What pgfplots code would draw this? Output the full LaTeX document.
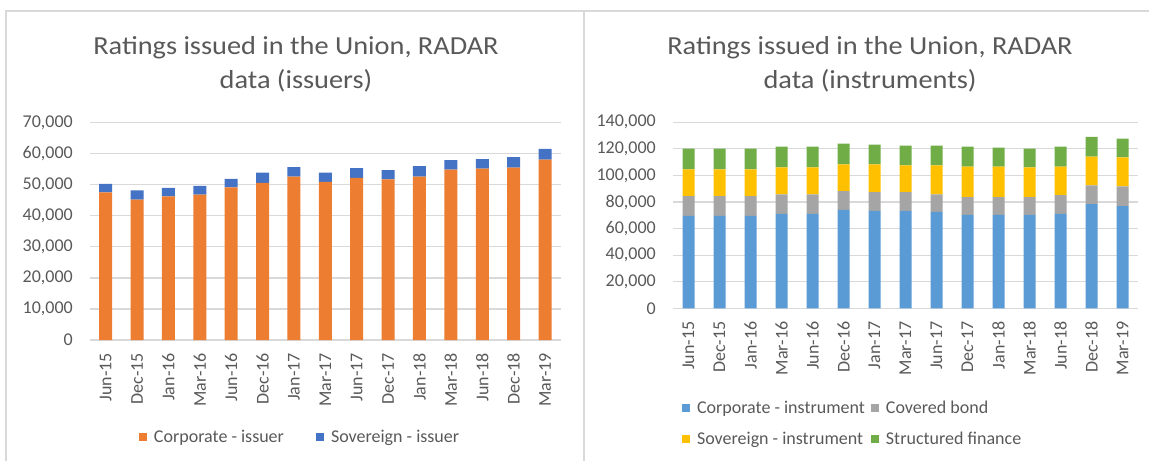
\documentclass[border=0pt]{standalone}
\usepackage{fontspec}
\setmainfont{Carlito}
\newfontfamily\titlefont[FakeStretch=1.09]{Carlito}
\usepackage{pgfplots}
\usepackage{pgfplotstable}
\pgfplotsset{compat=1.18}
\definecolor{txt}{HTML}{595959}
\definecolor{gridc}{HTML}{D9D9D9}
\definecolor{corpI}{HTML}{ED7D31}
\definecolor{sovI}{HTML}{4472C4}
\definecolor{corpN}{HTML}{5B9BD5}
\definecolor{covB}{HTML}{A5A5A5}
\definecolor{sovN}{HTML}{FFC000}
\definecolor{strF}{HTML}{70AD47}

\pgfplotstableread{
x corp sov
0 47520 2800
1 45260 2910
2 46230 2800
3 46870 2810
4 49140 2800
5 50650 3230
6 52590 3120
7 50970 2910
8 52260 3130
9 51720 3020
10 52590 3440
11 54850 3120
12 55170 3130
13 55500 3440
14 58080 3450
}\issuers

\pgfplotstableread{
x corp cov sov str
0 69620 14830 20110 15590
1 69620 14830 20110 15590
2 69620 14830 20110 15590
3 71130 14580 20360 15580
4 71130 14580 20360 15580
5 74150 14070 20110 15580
6 73390 14080 20860 14830
7 73390 14080 20110 14830
8 72640 13070 21870 14830
9 70380 13320 22870 15080
10 70380 13320 22870 14330
11 70380 13320 22370 14080
12 71130 14080 21360 15080
13 78420 14080 21620 14830
14 76910 14830 21870 14080
}\instr

\pgfplotsset{
  excel/.style={
    scale only axis,
    ybar stacked,
    xmin=-0.5, xmax=14.5,
    xtick={0,...,14},
    xticklabels={Jun-15,Dec-15,Jan-16,Mar-16,Jun-16,Dec-16,Jan-17,Mar-17,Jun-17,Dec-17,Jan-18,Mar-18,Jun-18,Dec-18,Mar-19},
    ymin=0,
    ymajorgrids,
    major grid style={draw=gridc, line width=1.2pt},
    axis line style={draw=none},
    major tick length=0pt,
    tick style={draw=none},
    scaled y ticks=false,
    /pgf/number format/assume math mode=true,
    yticklabel style={/pgf/number format/.cd, fixed, 1000 sep={,}, /tikz/.cd, font=\fontsize{18}{20}\selectfont, text=txt, inner sep=0pt, xshift=-17pt},
    xticklabel style={font=\fontsize{18}{20}\selectfont, text=txt, yshift=-13pt, rotate=90, anchor=east, inner sep=0pt},
    legend style={draw=none, fill=none, inner sep=0pt, outer sep=0pt,
      font=\fontsize{18}{20}\selectfont, text=txt,
      nodes={inner sep=0pt},
      /tikz/every odd column/.append style={column sep=7pt}},
    legend cell align=left,
  },
  sq/.style={fill=#1, draw=none, legend image code/.code={\fill[#1] (0pt,-4pt) rectangle (8pt,4pt);}},
}

\begin{document}
\begin{tikzpicture}[x=1pt,y=1pt]
\path[use as bounding box] (0,0) rectangle (1149,461);
\draw[gridc, line width=1.5pt] (6,0) -- (6,450) -- (1149,450);
\draw[gridc, line width=1.5pt] (584,0) -- (584,450);

\node[font=\titlefont\fontsize{26}{34}\selectfont, text=txt, align=center] at (296,397) {Ratings issued in the Union, RADAR\\data (issuers)};
\node[font=\titlefont\fontsize{26}{34}\selectfont, text=txt, align=center] at (870,397) {Ratings issued in the Union, RADAR\\data (instruments)};

\begin{axis}[excel, at={(90pt,121pt)}, anchor=south west,
  width=470.7pt, height=217.3pt, ymax=70000,
  ytick={0,10000,...,70000}, bar width=13pt,
  legend columns=2,
  legend style={at={(0.1041,-0.4464)}, anchor=west,
    /tikz/every even column/.append style={column sep=32pt}}]
\addplot[sq=corpI] table[x=x, y=corp] {\issuers};
\addlegendentry{Corporate - issuer}
\addplot[sq=sovI] table[x=x, y=sov] {\issuers};
\addlegendentry{Sovereign - issuer}
\end{axis}

\begin{axis}[excel, at={(673pt,152.7pt)}, anchor=south west,
  width=465pt, height=186pt, ymax=140000,
  ytick={0,20000,...,140000}, bar width=12pt,
  legend columns=2,
  legend style={at={(0.0194,-0.619)}, anchor=west, row sep=17pt,
    /tikz/every even column/.append style={column sep=6pt}}]
\addplot[sq=corpN] table[x=x, y=corp] {\instr};
\addlegendentry{Corporate - instrument}
\addplot[sq=covB] table[x=x, y=cov] {\instr};
\addlegendentry{Covered bond}
\addplot[sq=sovN] table[x=x, y=sov] {\instr};
\addlegendentry{Sovereign - instrument}
\addplot[sq=strF] table[x=x, y=str] {\instr};
\addlegendentry{Structured finance}
\end{axis}
\end{tikzpicture}
\end{document}
